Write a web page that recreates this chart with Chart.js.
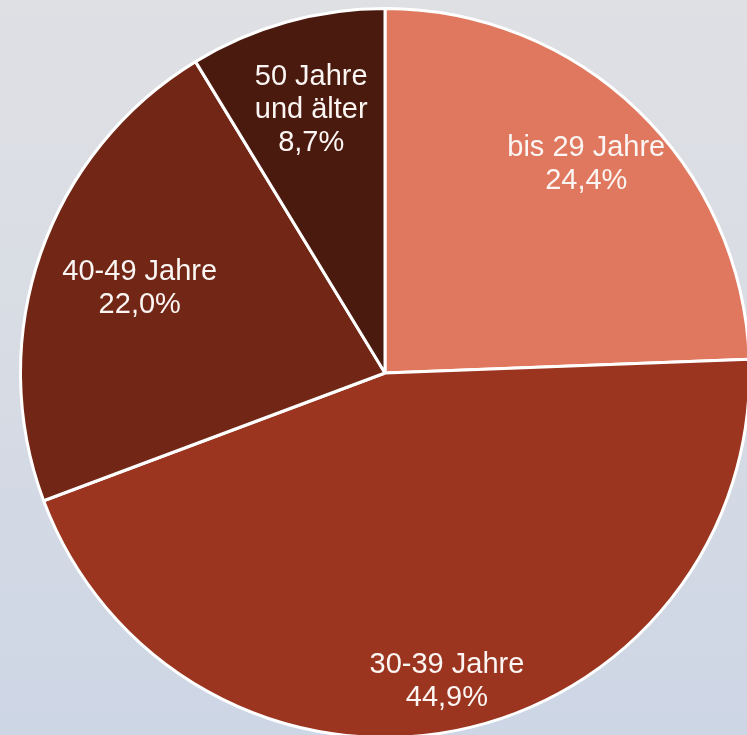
<!DOCTYPE html>
<html>
<head>
<meta charset="utf-8">
<script src="https://cdn.jsdelivr.net/npm/chart.js@4"></script>
<style>
  html, body {
    margin: 0;
    padding: 0;
    width: 747px;
    height: 735px;
    overflow: hidden;
  }
  body {
    position: relative;
    background: linear-gradient(to bottom, #dfe0e4 0%, #d8dce4 45%, #cdd6e5 100%);
  }
  #wrap {
    position: absolute;
    left: 19px;
    top: 7px;
    width: 732px;
    height: 732px;
  }
</style>
</head>
<body>
<div id="wrap"><canvas id="pie" width="732" height="732"></canvas></div>
<script>
// age groups, clockwise from 12 o'clock
const groups = [["bis 29 Jahre"], ["30-39 Jahre"], ["40-49 Jahre"], ["50 Jahre", "und älter"]];
const shares = [24.4, 44.9, 22.0, 8.7];
const sliceColours = ["#e0785f", "#9b3520", "#722716", "#4b1a0e"];
// how far out the label sits (fraction of radius)
const labelRadius = [0.796, 0.864, 0.712, 0.75];

function pct(v) {
  return v.toFixed(1).replace(".", ",") + "%";
}

//draw the white labels inside the slices
const sliceLabels = {
  id: "sliceLabels",
  afterDatasetsDraw(chart) {
    const ctx = chart.ctx;
    const meta = chart.getDatasetMeta(0);
    ctx.save();
    ctx.fillStyle = "#fbf6f3";
    ctx.font = "29px 'Liberation Sans', Arial, sans-serif";
    ctx.textAlign = "center";
    ctx.textBaseline = "middle";
    meta.data.forEach((arc, i) => {
      const mid = (arc.startAngle + arc.endAngle) / 2;
      const r = arc.outerRadius * labelRadius[i];
      const x = arc.x + Math.cos(mid) * r;
      const y = arc.y + Math.sin(mid) * r;
      const lines = groups[i].concat([pct(shares[i])]);
      const lh = 33;
      const y0 = y - ((lines.length - 1) * lh) / 2;
      lines.forEach((t, k) => {
        ctx.fillText(t, x, y0 + k * lh);
      });
    });
    ctx.restore();
  },
};

new Chart(document.getElementById("pie"), {
  type: "pie",
  data: {
    labels: groups.map((g) => g.join(" ")),
    datasets: [
      {
        data: shares,
        backgroundColor: sliceColours,
        borderColor: "#ffffff",
        borderWidth: 3,
      },
    ],
  },
  options: {
    responsive: false,
    animation: false,
    devicePixelRatio: 1,
    plugins: {
      legend: { display: false },
      tooltip: { enabled: false },
    },
  },
  plugins: [sliceLabels],
});
</script>
</body>
</html>
